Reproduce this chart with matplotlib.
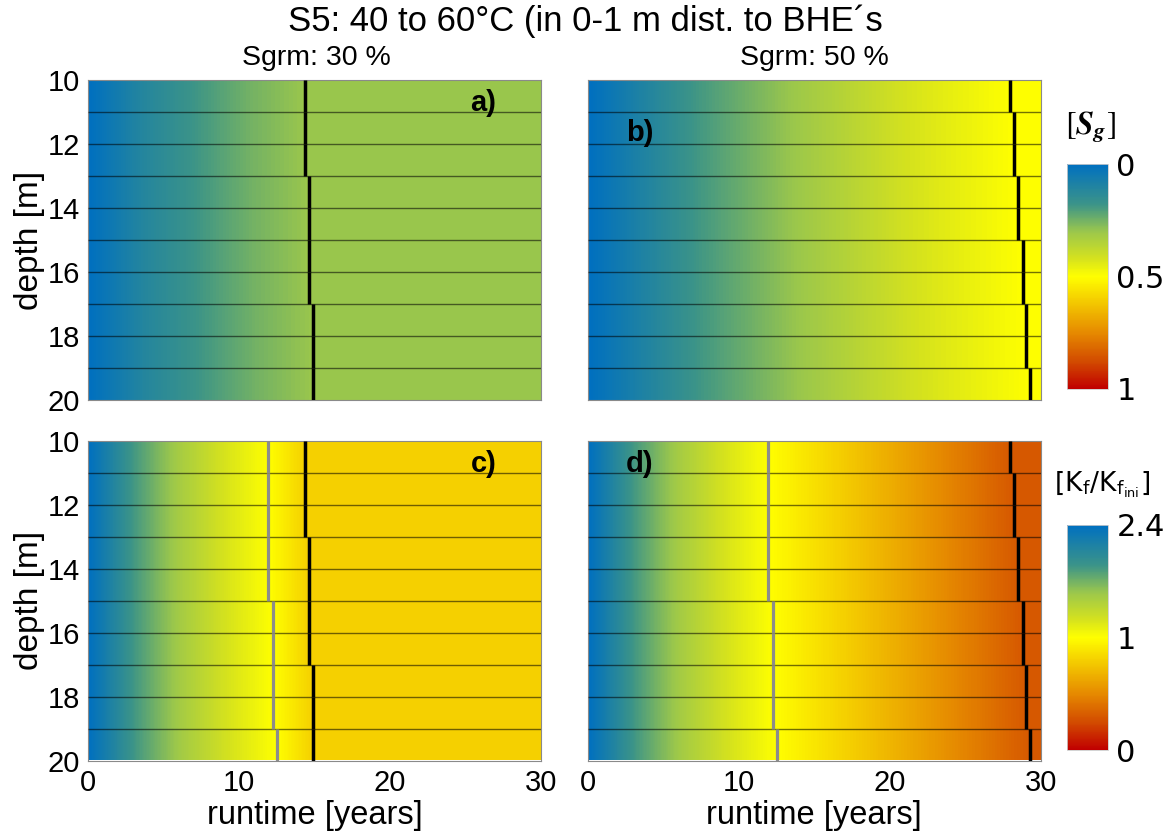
import numpy as np
import matplotlib
matplotlib.use("Agg")
import matplotlib.pyplot as plt
from matplotlib.colors import LinearSegmentedColormap, Normalize, TwoSlopeNorm
from matplotlib.cm import ScalarMappable

plt.rcParams['font.family'] = ['Liberation Sans', 'DejaVu Sans']
plt.rcParams['mathtext.fontset'] = 'stix'

# ---------------- data ----------------
title = "S5: 40 to 60°C (in 0-1 m dist. to BHE´s"
subtitles = ["Sgrm: 30 %", "Sgrm: 50 %"]
panel_letters = ["a)", "b)", "c)", "d)"]
depth_rows = [10, 11, 12, 13, 14, 15, 16, 17, 18, 19]          # top of each 1 m layer
sgrm = [0.3, 0.5]                                               # residual gas saturation per column
# time [years] at which Sg reaches Sgrm (black lines), per layer
t_sat_30 = [14.4, 14.4, 14.4, 14.65, 14.65, 14.65, 14.65, 14.9, 14.9, 14.9]
t_sat_50 = [27.95, 28.2, 28.2, 28.5, 28.5, 28.8, 28.8, 29.05, 29.05, 29.3]
# time [years] at which Kf/Kfini drops to 1 (grey lines), per layer
t_kf1 = [11.95, 11.95, 11.95, 11.95, 11.95, 12.25, 12.25, 12.25, 12.25, 12.5]
# read-off shape of the Sg rise: Sg/Sgrm at fractions of the saturation time
sg_time_frac = [0.0, 0.25, 0.5, 0.75, 1.0]
sg_value_frac = [0.0, 0.37, 0.62, 0.84, 1.0]
# read-off Kf/Kfini decline until the grey line (at fractions of its time)
kf_time_frac = [0.0, 0.25, 0.5, 0.75, 1.0]
kf_values = [2.4, 1.87, 1.5, 1.22, 1.0]
kf_end = [0.8, 0.3]                                             # final Kf/Kfini per column
runtime_max = 30
xticks = [0, 10, 20, 30]
yticks = [10, 12, 14, 16, 18, 20]

# colour map (blue - green - yellow - red)
cmap_pos = [0.0, 0.18, 0.3, 0.42, 0.5, 0.6, 0.75, 0.88, 1.0]
cmap_col = ['#0070C0', '#3C9488', '#9BC74C', '#D5E21E', '#FFFF00',
            '#F5D000', '#E68A00', '#D24A00', '#C00000']
cmap = LinearSegmentedColormap.from_list('sg', list(zip(cmap_pos, cmap_col)))
cmap_r = cmap.reversed()

fig = plt.figure(figsize=(11.7, 8.39), dpi=100)
W, H = 1170, 839


def ax_rect(x0, x1, y0, y1):
    return [x0 / W, 1 - y1 / H, (x1 - x0) / W, (y1 - y0) / H]


axes = [
    fig.add_axes(ax_rect(88, 541, 80, 400)),
    fig.add_axes(ax_rect(588, 1040.7, 80, 400)),
    fig.add_axes(ax_rect(88, 541, 440.5, 760.5)),
    fig.add_axes(ax_rect(588, 1040.7, 440.5, 760.5)),
]

nx = 900
tgrid = np.linspace(0, runtime_max, nx)
sg_norm = Normalize(0, 1)
kf_norm = TwoSlopeNorm(vmin=0, vcenter=1, vmax=2.4)
t_sats = [t_sat_30, t_sat_50]

for col in range(2):
    ts = t_sats[col]
    img_sg, img_kf = [], []
    for i in range(len(depth_rows)):
        xs = list(np.array(sg_time_frac) * ts[i]) + [runtime_max]
        vs = list(np.array(sg_value_frac) * sgrm[col]) + [sgrm[col]]
        img_sg.append(np.interp(tgrid, xs, vs))
        xk = list(np.array(kf_time_frac) * t_kf1[i]) + [ts[i], runtime_max]
        vk = list(kf_values) + [kf_end[col], kf_end[col]]
        img_kf.append(np.interp(tgrid, xk, vk))
    ax_t = axes[col]
    ax_b = axes[col + 2]
    ext = [0, runtime_max, depth_rows[-1] + 1, depth_rows[0]]
    ax_t.imshow(np.array(img_sg), cmap=cmap, norm=sg_norm, aspect='auto',
                interpolation='nearest', extent=ext)
    ax_b.imshow(np.array(img_kf), cmap=cmap_r, norm=kf_norm, aspect='auto',
                interpolation='nearest', extent=ext)
    for ax in (ax_t, ax_b):
        ax.hlines(depth_rows[1:], 0, runtime_max, colors='black', alpha=0.55,
                  linewidth=1.0, zorder=3)
    ax_b.vlines(t_kf1, depth_rows, np.array(depth_rows) + 1, colors='#8C8C8C',
                linewidth=2.3, zorder=4)
    for ax in (ax_t, ax_b):
        ax.vlines(ts, depth_rows, np.array(depth_rows) + 1, colors='black',
                  linewidth=2.5, zorder=5)

for i, ax in enumerate(axes):
    ax.set_xlim(0, runtime_max)
    ax.set_ylim(depth_rows[-1] + 1, depth_rows[0])
    ax.set_xticks(xticks)
    ax.set_yticks(yticks)
    ax.tick_params(length=0, labelsize=21, pad=6)
    for s in ax.spines.values():
        s.set_color('#8a8a8a')
        s.set_linewidth(0.8)
    if i in (0, 1):
        ax.set_xticklabels([])
    else:
        ax.set_xlabel('runtime [years]', fontsize=23.5, labelpad=2)
    if i in (1, 3):
        ax.set_yticklabels([])
    else:
        ax.set_ylabel('depth [m]', fontsize=24, labelpad=2)

letter_pos = [(26.2, 10.72), (3.45, 11.66), (26.2, 10.72), (3.45, 10.72)]
for ax, lab, (x, y) in zip(axes, panel_letters, letter_pos):
    ax.text(x, y, lab, fontsize=21, fontweight='bold', ha='center', va='center', zorder=6)

fig.text(585 / W, 1 - 21 / H, title, fontsize=25, ha='center', va='center')
fig.text(316 / W, 1 - 58 / H, subtitles[0], fontsize=20.5, ha='center', va='center')
fig.text(814 / W, 1 - 58 / H, subtitles[1], fontsize=20.5, ha='center', va='center')

# colour bars
cax1 = fig.add_axes(ax_rect(1067, 1108, 164, 389))
cb1 = fig.colorbar(ScalarMappable(norm=sg_norm, cmap=cmap), cax=cax1)
cb1.set_ticks([0, 0.5, 1])
cb1.set_ticklabels(['0', '0.5', '1'])
cax1.invert_yaxis()
cax2 = fig.add_axes(ax_rect(1067, 1108, 525, 750))
cb2 = fig.colorbar(ScalarMappable(norm=kf_norm, cmap=cmap_r), cax=cax2)
cb2.set_ticks([0, 1, 2.4])
cb2.set_ticklabels(['0', '1', '2.4'])
for cb in (cb1, cb2):
    cb.outline.set_edgecolor('#cccccc')
    cb.outline.set_linewidth(0.6)
    cb.ax.tick_params(length=0, labelsize=22, pad=6)
    for t in cb.ax.get_yticklabels():
        t.set_fontfamily('DejaVu Sans')

sg_lab = fig.text(1091 / W, 1 - 127 / H, r'$[\mathbfit{S}_{\mathbfit{g}}]$',
                  fontsize=23, ha='center', va='center')
try:
    fig.canvas.draw()
except Exception:
    sg_lab.set_text(r'$[\mathit{S}_{\mathit{g}}]$')

fig.text(1102 / W, 1 - 485 / H, r'[K$_\mathregular{f}$/K$_{\mathregular{f}_{\mathregular{ini}}}$]',
         fontsize=19, ha='center', va='center', family='DejaVu Sans')

fig.savefig('out.png', dpi=100)
